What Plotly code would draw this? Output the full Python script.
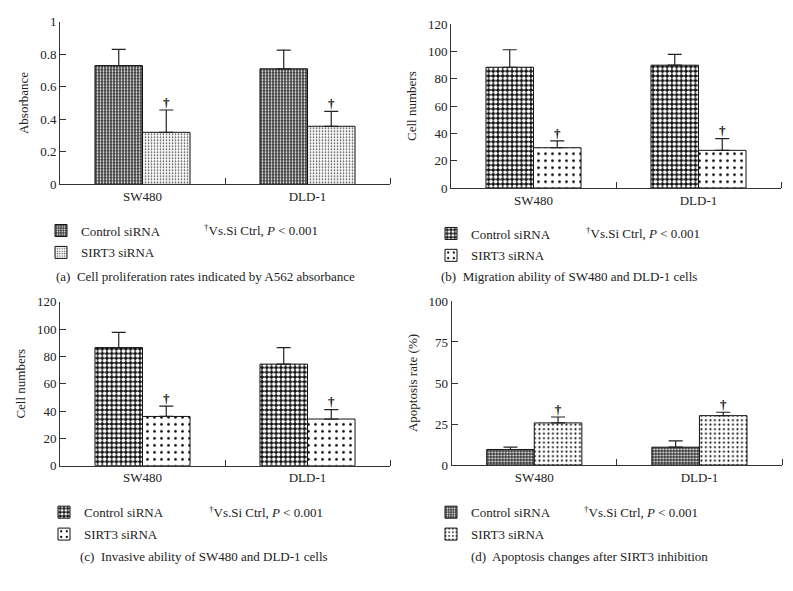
import plotly.graph_objects as go

# ---------------- data ----------------
cats = ["SW480", "DLD-1"]

a_ctrl = [0.73, 0.71]
a_ctrl_err = [0.10, 0.115]
a_sirt = [0.32, 0.357]
a_sirt_err = [0.137, 0.092]

b_ctrl = [88.5, 90.0]
b_ctrl_err = [12.8, 7.9]
b_sirt = [29.5, 27.6]
b_sirt_err = [5.0, 8.6]

c_ctrl = [86.5, 74.4]
c_ctrl_err = [11.1, 12.1]
c_sirt = [36.1, 34.2]
c_sirt_err = [7.6, 6.9]

d_ctrl = [9.5, 10.9]
d_ctrl_err = [1.4, 3.8]
d_sirt = [25.7, 30.1]
d_sirt_err = [3.6, 2.1]

series_names = ["Control siRNA", "SIRT3 siRNA"]
y_titles = ["Absorbance", "Cell numbers", "Cell numbers", "Apoptosis rate (%)"]
y_ranges = [[0, 1], [0, 120], [0, 120], [0, 100]]
y_dticks = [0.2, 20, 20, 25]
captions = [
    "(a)  Cell proliferation rates indicated by A562 absorbance",
    "(b)  Migration ability of SW480 and DLD-1 cells",
    "(c)  Invasive ability of SW480 and DLD-1 cells",
    "(d)  Apoptosis changes after SIRT3 inhibition",
]
note_text = "<sup>†</sup>Vs.Si Ctrl, <i>P</i> < 0.001"
dagger = "†"

W, H = 793, 591
FONT = "Liberation Serif, Times New Roman, serif"
AX = "#333333"
TXT = "#222222"

# -------------- layout geometry (pixels from top-left) ---------------
boxes = [
    (60, 390, 182, 15),
    (451, 781, 185.7, 17.7),
    (60, 390, 470.7, 302.5),
    (451.7, 782, 470, 301.6),
]
legend_pos = [(41, 214), (431, 217), (44, 503), (431, 503)]
note_pos = [(202, 229), (584, 232), (207, 518), (582, 518)]
caption_pos = [(205, 277), (569, 277), (204, 564), (589, 564)]

ctrl_patterns = [
    dict(shape=".", bgcolor="#3c3c3c", fgcolor="#ffffff", size=3, solidity=0.3),
    dict(shape=".", bgcolor="#111111", fgcolor="#ffffff", size=4.7, solidity=0.5),
    dict(shape=".", bgcolor="#111111", fgcolor="#ffffff", size=4.7, solidity=0.5),
    dict(shape=".", bgcolor="#3c3c3c", fgcolor="#ffffff", size=3, solidity=0.3),
]
sirt_patterns = [
    dict(shape=".", bgcolor="#ffffff", fgcolor="#3a3a3a", size=3, solidity=0.25),
    dict(shape=".", bgcolor="#ffffff", fgcolor="#000000", size=7, solidity=0.12),
    dict(shape=".", bgcolor="#ffffff", fgcolor="#000000", size=7, solidity=0.12),
    dict(shape=".", bgcolor="#ffffff", fgcolor="#111111", size=4.5, solidity=0.17),
]

panels = [
    (a_ctrl, a_ctrl_err, a_sirt, a_sirt_err),
    (b_ctrl, b_ctrl_err, b_sirt, b_sirt_err),
    (c_ctrl, c_ctrl_err, c_sirt, c_sirt_err),
    (d_ctrl, d_ctrl_err, d_sirt, d_sirt_err),
]

BARGAP = 0.424
xpos = list(range(len(cats)))
OFF = (1 - BARGAP) / 4  # centre offset of each bar inside a group

fig = go.Figure()
annotations = []
layout_extra = {}

for k, (ctrl, ctrl_err, sirt, sirt_err) in enumerate(panels):
    sfx = "" if k == 0 else str(k + 1)
    leg = "legend" + sfx
    for j, (name, vals, errs, pat) in enumerate([
        (series_names[0], ctrl, ctrl_err, ctrl_patterns[k]),
        (series_names[1], sirt, sirt_err, sirt_patterns[k]),
    ]):
        fig.add_trace(go.Bar(
            x=xpos, y=vals, name=name,
            xaxis="x" + sfx, yaxis="y" + sfx, legend=leg,
            legendgroup=f"p{k}s{j}",
            marker=dict(color=pat["bgcolor"], line=dict(color="#111111", width=1),
                        pattern=dict(shape=pat["shape"], bgcolor=pat["bgcolor"],
                                     fgcolor=pat["fgcolor"], size=pat["size"],
                                     solidity=pat["solidity"], fillmode="replace")),
            error_y=dict(type="data", array=errs, arrayminus=[0] * len(errs),
                         symmetric=False, color="#222222", thickness=1.2, width=7),
            hoverinfo="skip",
        ))
    # significance daggers above the SIRT3 bars
    fig.add_trace(go.Scatter(
        x=[i + OFF for i in xpos], y=[s + e for s, e in zip(sirt, sirt_err)],
        mode="text", text=[dagger] * len(xpos), textposition="top center",
        textfont=dict(family=FONT, size=13, color="#111111", weight="bold"),
        xaxis="x" + sfx, yaxis="y" + sfx, showlegend=False, hoverinfo="skip",
    ))
    x0, x1, yb, yt = boxes[k]
    layout_extra["xaxis" + sfx] = dict(
        domain=[x0 / W, x1 / W], anchor="y" + sfx, range=[-0.5, len(cats) - 0.5],
        tickvals=xpos, ticktext=cats, ticks="", showline=True, linecolor=AX,
        linewidth=1, showgrid=False, zeroline=False,
        tickfont=dict(family=FONT, size=13, color=TXT),
        minor=dict(tickvals=[i + 0.5 for i in xpos], ticks="inside", ticklen=6,
                   tickcolor=AX, tickwidth=1, showgrid=False),
    )
    layout_extra["yaxis" + sfx] = dict(
        domain=[1 - yb / H, 1 - yt / H], anchor="x" + sfx, range=y_ranges[k],
        dtick=y_dticks[k], ticks="inside", ticklen=6, tickcolor=AX, showline=True,
        linecolor=AX, linewidth=1, showgrid=False, zeroline=False,
        tickfont=dict(family=FONT, size=13, color=TXT),
        title=dict(text=y_titles[k], font=dict(family=FONT, size=13, color=TXT),
                   standoff=8),
    )
    lx, ly = legend_pos[k]
    layout_extra[leg] = dict(
        x=lx / W, y=1 - ly / H, xanchor="left", yanchor="top",
        bgcolor="rgba(0,0,0,0)", font=dict(family=FONT, size=13, color=TXT),
        tracegroupgap=2, itemclick=False, itemdoubleclick=False,
    )
    nx, ny = note_pos[k]
    annotations.append(dict(
        x=nx / W, y=1 - ny / H, xref="paper", yref="paper", text=note_text,
        showarrow=False, xanchor="left", yanchor="middle",
        font=dict(family=FONT, size=13, color=TXT),
    ))
    cx, cy = caption_pos[k]
    annotations.append(dict(
        x=cx / W, y=1 - cy / H, xref="paper", yref="paper", text=captions[k],
        showarrow=False, xanchor="center", yanchor="middle",
        font=dict(family=FONT, size=13, color=TXT),
    ))

fig.update_layout(
    width=W, height=H, margin=dict(l=0, r=0, t=0, b=0),
    paper_bgcolor="white", plot_bgcolor="white",
    barmode="group", bargap=BARGAP, bargroupgap=0,
    annotations=annotations, showlegend=True,
    **layout_extra,
)

fig.write_html("out.html", config={"displayModeBar": False},
               post_script="document.body.style.margin='0';")
